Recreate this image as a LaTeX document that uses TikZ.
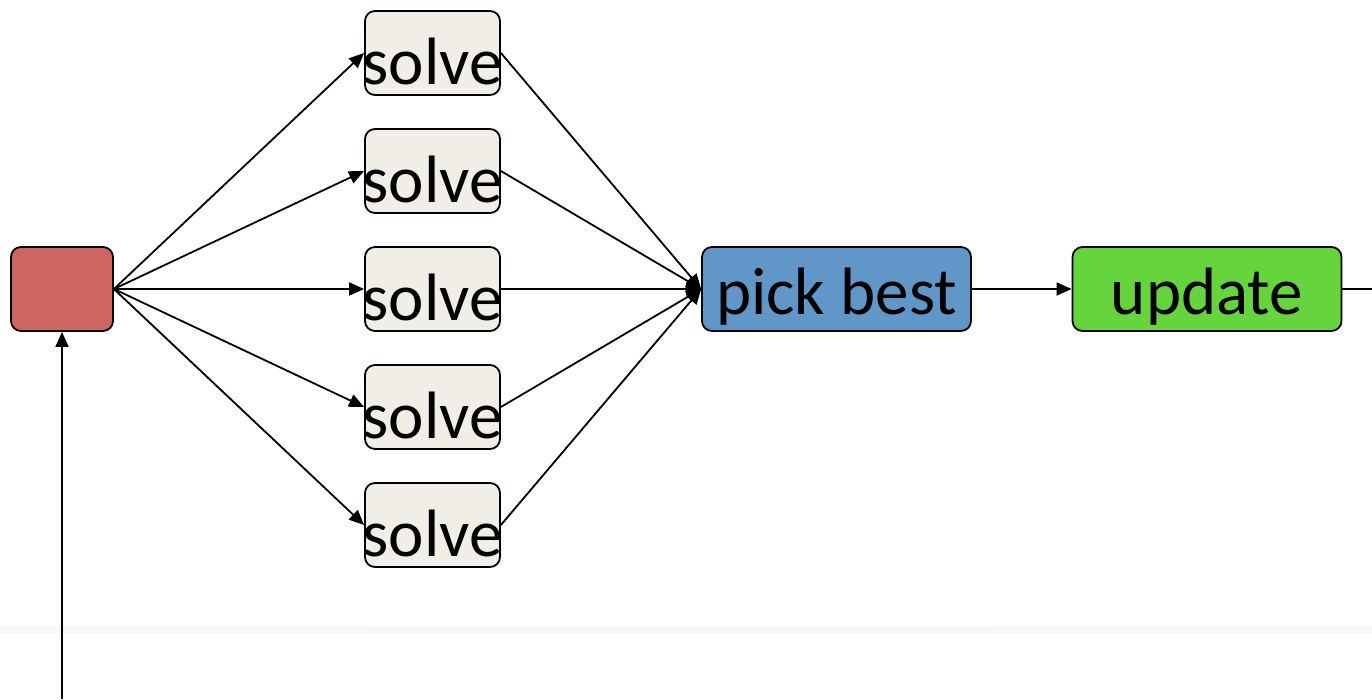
\documentclass[tikz,border=0pt]{standalone}
\usepackage{fontspec}
\setmainfont{Carlito}
\usetikzlibrary{arrows.meta}
\definecolor{srcred}{HTML}{CD6660}
\definecolor{solvefill}{HTML}{F0EEE6}
\definecolor{pickblue}{HTML}{6096C8}
\definecolor{updgreen}{HTML}{66D43C}
\begin{document}
\begin{tikzpicture}[x=1pt,y=-1pt,
  box/.style={draw=black,line width=1.8pt,rounded corners=10pt,inner sep=0pt,
    minimum height=84pt,font=\fontsize{67}{67}\selectfont,text depth=0pt},
  solvebox/.style={box,fill=solvefill,minimum width=135pt,text height=62pt},
  widebox/.style={box,minimum width=269pt,text height=50pt},
  conn/.style={line width=1.8pt,-{Triangle[length=15pt,width=13pt]}}]
  \useasboundingbox (0,0) rectangle (1372,699);
  % faint horizontal band across the lower part
  \fill[black!3] (0,626) rectangle (1372,633);
  \fill[black!4] (370,627) rectangle (990,632);

  \node[box,fill=srcred,minimum width=102pt] (src) at (62,289) {};
  % the label is wider than its box, so it is set in a narrower box and overhangs
  \foreach \i/\y in {1/53,2/171,3/289,4/407,5/525}
    \node[solvebox] (s\i) at (432.5,\y) {\makebox[100pt]{solve}};
  \node[widebox,fill=pickblue] (pick) at (836.5,289) {pick best};
  \node[widebox,fill=updgreen] (upd) at (1207,289) {update};

  \coordinate (feed) at (62,699);
  \coordinate (out) at (1372,289);

  \foreach \i in {1,...,5} {
    \draw[conn] (src.east) -- (s\i.west);
    \draw[conn] (s\i.east) -- (pick.west);
  }
  \draw[conn] (pick) -- (upd);
  \draw[line width=1.8pt] (upd) -- (out);
  \draw[conn] (feed) -- (src);
\end{tikzpicture}
\end{document}
